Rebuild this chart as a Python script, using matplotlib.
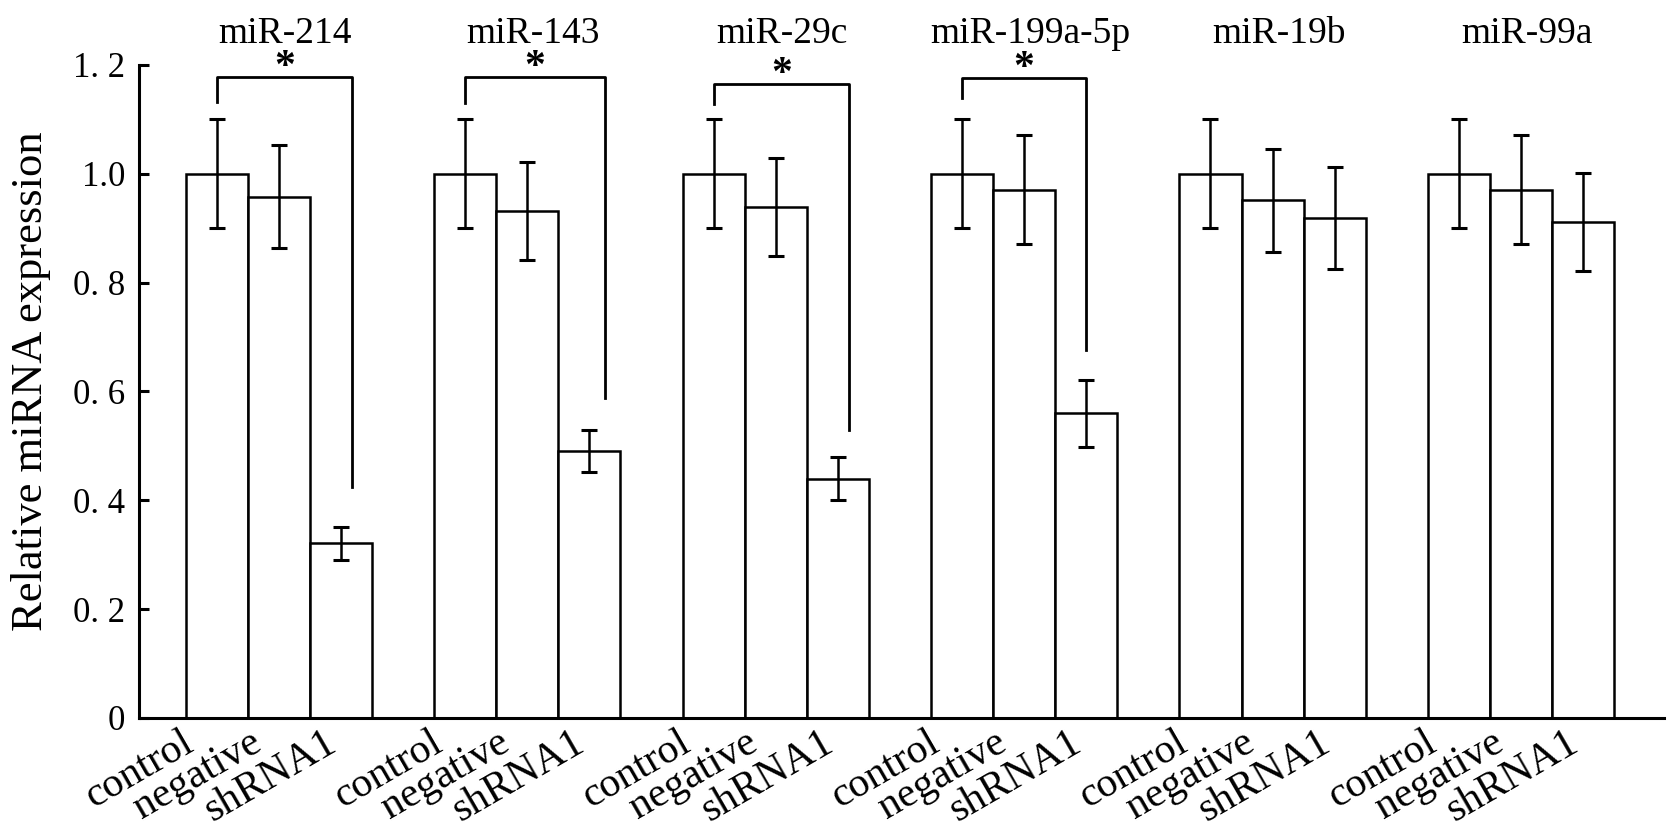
import numpy as np
import matplotlib
matplotlib.use("Agg")
import matplotlib.pyplot as plt
import matplotlib.transforms as mtransforms

plt.rcParams['font.family'] = ['Liberation Serif', 'DejaVu Serif']

# data
mirnas = ['miR-214', 'miR-143', 'miR-29c', 'miR-199a-5p', 'miR-19b', 'miR-99a']
conditions = ['control', 'negative', 'shRNA1']
control = [1.0, 1.0, 1.0, 1.0, 1.0, 1.0]
negative = [0.958, 0.931, 0.939, 0.971, 0.951, 0.971]
shrna1 = [0.321, 0.491, 0.44, 0.56, 0.919, 0.911]
control_err = [0.1, 0.1, 0.1, 0.1, 0.1, 0.1]
negative_err = [0.095, 0.09, 0.09, 0.1, 0.095, 0.1]
shrna1_err = [0.03, 0.039, 0.04, 0.062, 0.093, 0.09]

# significance brackets (first four miRNAs)
sig_groups = [0, 1, 2, 3]
sig_top = [1.178, 1.178, 1.165, 1.176]
sig_left_end = [1.132, 1.13, 1.129, 1.14]
sig_right_end = [0.425, 0.588, 0.53, 0.676]
sig_right_shift = [0.18, 0.25, 0.18, 0.0]

y_ticks = [0, 0.2, 0.4, 0.6, 0.8, 1.0, 1.2]
y_tick_labels = ['0', '0. 2', '0. 4', '0. 6', '0. 8', '1.0', '1. 2']

fig = plt.figure(figsize=(16.77, 8.31), dpi=100)
ax = fig.add_axes([0.0829, 0.136, 0.9093, 0.7858])

lw = 1.8
values = [control, negative, shrna1]
errs = [control_err, negative_err, shrna1_err]
positions = []
labels = []
for g in range(len(mirnas)):
    for j in range(3):
        x = 4 * g + j
        positions.append(x)
        labels.append(conditions[j])
        ax.bar(x, values[j][g], width=1.0, color='white', edgecolor='black',
               linewidth=lw, zorder=2)
        ax.errorbar(x, values[j][g], yerr=errs[j][g], fmt='none', ecolor='black',
                    elinewidth=lw, capsize=5.5, capthick=lw + 0.4, zorder=3)

# group names above the plot
for g, name in enumerate(mirnas):
    ax.text(4 * g + 1.1, 1.241, name, ha='center', va='baseline', fontsize=27,
            clip_on=False)

# brackets with stars
for k, g in enumerate(sig_groups):
    x0 = 4 * g
    x1 = 4 * g + 2 + sig_right_shift[k]
    ax.plot([x0, x0, x1, x1],
            [sig_left_end[k], sig_top[k], sig_top[k], sig_right_end[k]],
            color='black', linewidth=lw + 0.2, clip_on=False, zorder=4)
    ax.text((x0 + x1) / 2, sig_top[k] - 0.002, '*', ha='center', va='baseline',
            fontsize=30, fontweight='bold', clip_on=False)

ax.set_xlim(-1.25, 23.3)
ax.set_ylim(0, 1.2)
ax.set_yticks(y_ticks)
ax.set_yticklabels(y_tick_labels, fontsize=25)
ax.tick_params(axis='y', direction='in', length=7, width=lw + 0.4, pad=10)
ax.set_xticks(positions)
ax.set_xticklabels(labels, rotation=30, ha='right', va='top', fontsize=30)
ax.tick_params(axis='x', length=0, pad=4)
# the condition labels sit a little unevenly under the bars
label_shift = [-0.16, -0.11, 0.02]
for i, lab in enumerate(ax.get_xticklabels()):
    off = mtransforms.ScaledTranslation(label_shift[i % 3], 0, fig.dpi_scale_trans)
    lab.set_transform(lab.get_transform() + off)

ax.set_ylabel('Relative miRNA expression', fontsize=32)
ax.yaxis.set_label_coords(-0.058, 0.515)
for side in ['top', 'right']:
    ax.spines[side].set_visible(False)
for side in ['left', 'bottom']:
    ax.spines[side].set_linewidth(lw + 0.4)

fig.savefig('out.png', dpi=100)
